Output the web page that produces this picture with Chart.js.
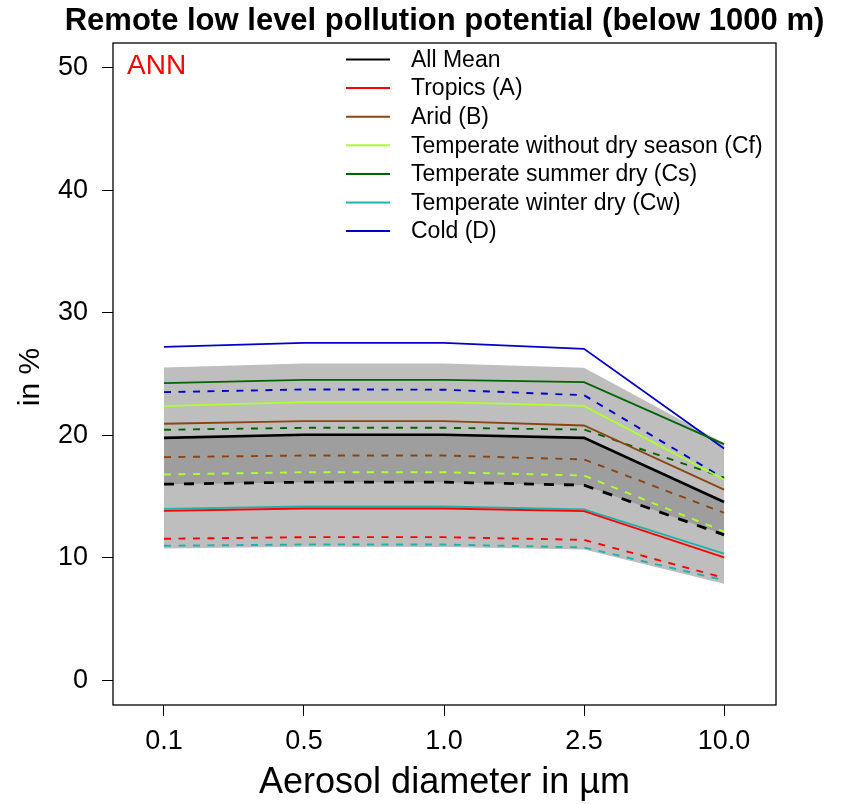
<!DOCTYPE html>
<html>
<head>
<meta charset="utf-8">
<script src="https://cdn.jsdelivr.net/npm/chart.js@4.4.1/dist/chart.umd.min.js"></script>
<style>
  body { margin: 0; background: #fff; }
  canvas { display: block; }
</style>
</head>
<body>
<canvas id="chart" width="841" height="804"></canvas>
<script>
// aerosol size classes on the x axis
const diameters = ['0.1', '0.5', '1.0', '2.5', '10.0'];
const yTicks = [0, 10, 20, 30, 40, 50];

const regionNames = ['All Mean', 'Tropics (A)', 'Arid (B)', 'Temperate without dry season (Cf)',
  'Temperate summer dry (Cs)', 'Temperate winter dry (Cw)', 'Cold (D)'];
const regionColors = ['#000000', '#ff0000', '#8b4513', '#adff2f', '#006400', '#20b2aa', '#0000cd'];

// solid lines
const meanSolid    = [19.79, 20.04, 20.04, 19.79, 14.56];
const tropicsSolid = [13.84, 14.03, 14.03, 13.81, 10.05];
const aridSolid    = [20.94, 21.15, 21.15, 20.80, 15.57];
const cfSolid      = [22.38, 22.70, 22.70, 22.40, 16.40];
const csSolid      = [24.25, 24.52, 24.52, 24.33, 19.28];
const cwSolid      = [14.00, 14.19, 14.19, 13.95, 10.35];
const coldSolid    = [27.22, 27.54, 27.54, 27.05, 18.93];

// dashed lines
const meanDashed    = [16.01, 16.18, 16.18, 15.93, 11.88];
const tropicsDashed = [11.56, 11.69, 11.69, 11.47, 8.37];
const aridDashed    = [18.22, 18.35, 18.35, 18.03, 13.68];
const cfDashed      = [16.80, 16.99, 16.99, 16.72, 12.15];
const csDashed      = [20.45, 20.61, 20.61, 20.47, 16.55];
const cwDashed      = [10.99, 11.09, 11.09, 10.85, 8.18];
const coldDashed    = [23.52, 23.74, 23.72, 23.27, 16.48];

// outer grey envelope
const bandUpper = [25.53, 25.86, 25.86, 25.50, 19.35];
const bandLower = [10.77, 10.90, 10.88, 10.69, 7.89];

const FONT = '"Liberation Sans", Arial, Helvetica, sans-serif';

const solids = [meanSolid, tropicsSolid, aridSolid, cfSolid, csSolid, cwSolid, coldSolid];
const dashes = [meanDashed, tropicsDashed, aridDashed, cfDashed, csDashed, cwDashed, coldDashed];

function pts(arr) {
  return arr.map((v, i) => ({ x: i, y: v }));
}

const datasets = [];
solids.forEach((arr, i) => {
  datasets.push({
    label: regionNames[i],
    data: pts(arr),
    borderColor: regionColors[i],
    borderWidth: i === 0 ? 2.6 : 1.8,
    pointRadius: 0,
    fill: false
  });
});
dashes.forEach((arr, i) => {
  datasets.push({
    label: regionNames[i] + ' dashed',
    data: pts(arr),
    borderColor: regionColors[i],
    borderWidth: i === 0 ? 2.8 : 1.9,
    borderDash: i === 0 ? [10, 10] : [7, 7.5],
    pointRadius: 0,
    fill: false
  });
});
// dark band between the two mean lines
datasets[0].fill = { target: 7 };
datasets[0].backgroundColor = '#9e9e9e';
// light band
datasets.push({
  label: 'band upper',
  data: pts(bandUpper),
  borderWidth: 0,
  borderColor: 'rgba(0,0,0,0)',
  backgroundColor: '#bebebe',
  pointRadius: 0,
  fill: '+1'
});
datasets.push({
  label: 'band lower',
  data: pts(bandLower),
  borderWidth: 0,
  borderColor: 'rgba(0,0,0,0)',
  pointRadius: 0,
  fill: false
});

const decorations = {
  id: 'decorations',
  afterDraw(chart) {
    const ctx = chart.ctx;
    const a = chart.chartArea;
    ctx.save();
    // box around plot
    ctx.strokeStyle = '#000';
    ctx.lineWidth = 1.3;
    ctx.strokeRect(a.left, a.top, a.right - a.left, a.bottom - a.top);

    // main title
    ctx.fillStyle = '#000';
    ctx.font = 'bold 31px ' + FONT;
    ctx.textAlign = 'center';
    ctx.textBaseline = 'alphabetic';
    ctx.fillText('Remote low level pollution potential (below 1000 m)', (a.left + a.right) / 2, 30);

    // axis titles
    ctx.font = '36px ' + FONT;
    ctx.textBaseline = 'middle';
    ctx.fillText('Aerosol diameter in µm', (a.left + a.right) / 2, 783);
    ctx.save();
    ctx.translate(31, (a.top + a.bottom) / 2 + 3);
    ctx.rotate(-Math.PI / 2);
    ctx.font = '30px ' + FONT;
    ctx.fillText('in %', 0, 0);
    ctx.restore();

    // season tag
    ctx.fillStyle = '#ff0000';
    ctx.font = '28px ' + FONT;
    ctx.textAlign = 'left';
    ctx.textBaseline = 'alphabetic';
    ctx.fillText('ANN', 127, 74);

    // legend
    ctx.font = '23px ' + FONT;
    ctx.textBaseline = 'middle';
    regionNames.forEach((name, i) => {
      const y = 59.5 + i * 28.6;
      ctx.strokeStyle = regionColors[i];
      ctx.lineWidth = 2;
      ctx.beginPath();
      ctx.moveTo(346, y);
      ctx.lineTo(390, y);
      ctx.stroke();
      ctx.fillStyle = '#000';
      ctx.fillText(name, 411, y + 1);
    });
    ctx.restore();
  }
};

new Chart(document.getElementById('chart'), {
  type: 'line',
  data: { datasets: datasets },
  options: {
    responsive: false,
    animation: false,
    devicePixelRatio: 1,
    layout: { padding: { left: 0, top: 43, right: 65, bottom: 0 } },
    plugins: {
      legend: { display: false },
      tooltip: { enabled: false },
      filler: { drawTime: 'beforeDatasetsDraw' }
    },
    scales: {
      x: {
        type: 'linear',
        min: -0.364,
        max: 4.371,
        afterBuildTicks: s => { s.ticks = diameters.map((d, i) => ({ value: i })); },
        afterFit: s => { s.height = 99; },
        border: { display: false },
        grid: { drawOnChartArea: false, drawTicks: true, tickLength: 11, color: '#000', lineWidth: 1 },
        ticks: {
          padding: 9,
          color: '#000',
          font: { family: FONT, size: 27 },
          maxRotation: 0,
          autoSkip: false,
          callback: v => diameters[v]
        }
      },
      y: {
        min: -2,
        max: 52,
        afterBuildTicks: s => { s.ticks = yTicks.map(v => ({ value: v })); },
        afterFit: s => { s.width = 113; },
        border: { display: false },
        grid: { drawOnChartArea: false, drawTicks: true, tickLength: 11, color: '#000', lineWidth: 1 },
        ticks: {
          padding: 14,
          color: '#000',
          font: { family: FONT, size: 27 },
          callback: v => String(v)
        }
      }
    }
  },
  plugins: [decorations]
});
</script>
</body>
</html>
